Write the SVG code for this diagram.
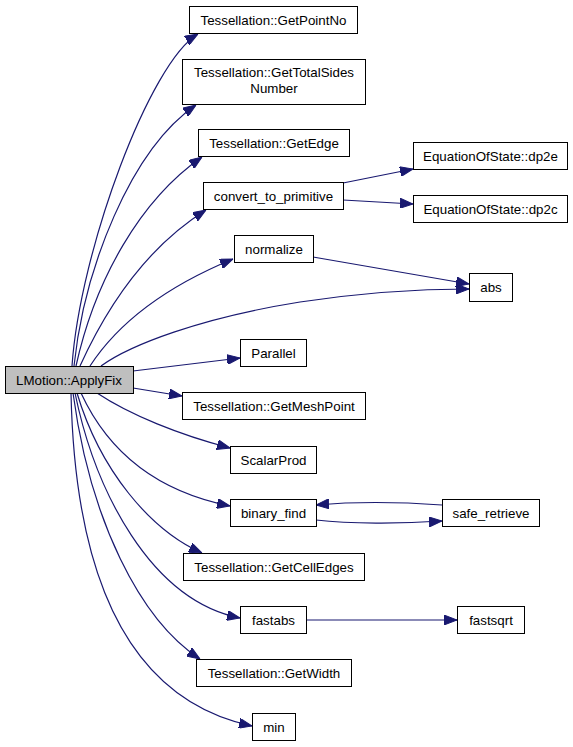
<svg xmlns="http://www.w3.org/2000/svg" width="573" height="747" viewBox="0 0 573 747">
<style>
.n rect{fill:#ffffff;stroke:#000000;stroke-width:1}
.root rect{fill:#bfbfbf}
text{font-family:"Liberation Sans",Arial,sans-serif;font-size:13.33px;fill:#000000;text-anchor:middle}
.e path{fill:none;stroke:#191970;stroke-width:1.2;marker-end:url(#ah)}
</style>
<defs>
<marker id="ah" markerUnits="userSpaceOnUse" markerWidth="13" markerHeight="10" refX="13" refY="5" orient="auto" viewBox="0 0 13 10">
<path d="M0,0 L13,5 L0,10 z" fill="#191970" stroke="#191970" stroke-width="1"/>
</marker>
</defs>
<rect width="573" height="747" fill="#ffffff"/>
<g id="connectors" class="e">
<path d="M72,366 C80,250 150,62 198,34"/>
<path d="M74,366 C84,270 130,150 196,105"/>
<path d="M76,366 C95,280 140,200 202,157"/>
<path d="M80,366 C110,300 150,245 206,210"/>
<path d="M90,366 C120,320 170,285 233,259"/>
<path d="M101,366 C130,345 200,318 300,302 C360,293 420,289 469,289"/>
<path d="M133,371 L240,358"/>
<path d="M133,388 L182,396"/>
<path d="M97,393 C130,415 180,435 230,448"/>
<path d="M81,393 C105,445 150,490 230,506"/>
<path d="M77,393 C100,470 150,530 202,553"/>
<path d="M75,393 C95,490 150,600 240,618"/>
<path d="M73,393 C90,520 140,620 200,659"/>
<path d="M71,393 C75,580 130,700 252,726"/>
<path d="M343,183 L413,169"/>
<path d="M343,200 L413,204"/>
<path d="M313,257 L469,284"/>
<path d="M316,520 C350,524 400,524 442,521"/>
<path d="M442,505 C400,502 350,502 316,505"/>
<path d="M306,620 L457,620"/>
</g>
<g id="node_root" class="n root"><rect x="5.5" y="366.5" width="128" height="27"/><text x="69" y="384.5">LMotion::ApplyFix</text></g>
<g id="node_getpointno" class="n"><rect x="189.5" y="6.5" width="168" height="27"/><text x="273.5" y="25">Tessellation::GetPointNo</text></g>
<g id="node_gettotalsides" class="n"><rect x="182.5" y="59.5" width="183" height="45"/><text x="274" y="77">Tessellation::GetTotalSides</text><text x="274" y="93">Number</text></g>
<g id="node_getedge" class="n"><rect x="198.5" y="129.5" width="151" height="27"/><text x="274" y="148">Tessellation::GetEdge</text></g>
<g id="node_convert" class="n"><rect x="203.5" y="182.5" width="140" height="27"/><text x="273.5" y="201">convert_to_primitive</text></g>
<g id="node_dp2e" class="n"><rect x="413.5" y="142.5" width="154" height="27"/><text x="490.5" y="161">EquationOfState::dp2e</text></g>
<g id="node_dp2c" class="n"><rect x="413.5" y="195.5" width="154" height="27"/><text x="490.5" y="214">EquationOfState::dp2c</text></g>
<g id="node_normalize" class="n"><rect x="234.5" y="235.5" width="79" height="27"/><text x="274" y="254">normalize</text></g>
<g id="node_abs" class="n"><rect x="469.5" y="273.5" width="43" height="28"/><text x="491" y="292">abs</text></g>
<g id="node_parallel" class="n"><rect x="240.5" y="339.5" width="66" height="27"/><text x="273.5" y="358">Parallel</text></g>
<g id="node_getmeshpoint" class="n"><rect x="182.5" y="392.5" width="183" height="27"/><text x="274" y="411">Tessellation::GetMeshPoint</text></g>
<g id="node_scalarprod" class="n"><rect x="230.5" y="446.5" width="86" height="27"/><text x="273.5" y="465">ScalarProd</text></g>
<g id="node_binaryfind" class="n"><rect x="230.5" y="499.5" width="86" height="27"/><text x="273.5" y="518">binary_find</text></g>
<g id="node_saferetrieve" class="n"><rect x="442.5" y="499.5" width="97" height="27"/><text x="491" y="518">safe_retrieve</text></g>
<g id="node_getcelledges" class="n"><rect x="183.5" y="553.5" width="181" height="27"/><text x="274" y="572">Tessellation::GetCellEdges</text></g>
<g id="node_fastabs" class="n"><rect x="240.5" y="606.5" width="66" height="27"/><text x="273.5" y="625">fastabs</text></g>
<g id="node_fastsqrt" class="n"><rect x="457.5" y="606.5" width="67" height="27"/><text x="491" y="625">fastsqrt</text></g>
<g id="node_getwidth" class="n"><rect x="196.5" y="659.5" width="155" height="27"/><text x="274" y="678">Tessellation::GetWidth</text></g>
<g id="node_min" class="n"><rect x="252.5" y="713.5" width="43" height="27"/><text x="274" y="732">min</text></g>
</svg>
